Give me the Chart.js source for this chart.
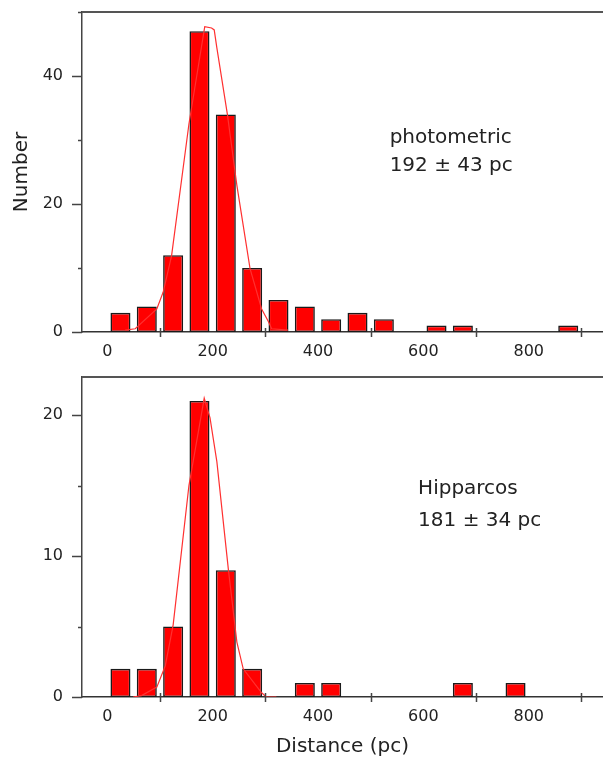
<!DOCTYPE html>
<html>
<head>
<meta charset="utf-8">
<script src="https://cdn.jsdelivr.net/npm/chart.js@4/dist/chart.umd.min.js"></script>
<style>
  body { margin: 0; background: #fff; }
  .panel { position: absolute; left: 0; width: 603px; }
  #topPanel { top: 0; height: 370px; }
  #bottomPanel { top: 370px; height: 391px; }
</style>
</head>
<body>
<div class="panel" id="topPanel"><canvas id="topChart" width="603" height="370"></canvas></div>
<div class="panel" id="bottomPanel"><canvas id="bottomChart" width="603" height="391"></canvas></div>
<script>
// distance bins (centre of each 50 pc bin) and counts
const topBins = [25, 75, 125, 175, 225, 275, 325, 375, 425, 475, 525, 625, 675, 875];
const topCounts = [3, 4, 12, 47, 34, 10, 5, 4, 2, 3, 2, 1, 1, 1];
const bottomBins = [25, 75, 125, 175, 225, 275, 375, 425, 675, 775];
const bottomCounts = [2, 2, 5, 21, 9, 2, 1, 1, 1, 1];

// gaussian fit curves
const topFitX = [34, 53, 94, 106, 122, 155, 185, 198, 203, 208, 228, 246, 271, 293, 306, 312, 343];
const topFitY = [0.3, 0.5, 3.6, 6.2, 11.9, 32.5, 47.7, 47.5, 47.2, 44.4, 34, 22.9, 9.9, 3.6, 1.6, 0.5, 0.3];
const bottomFitX = [49, 65, 94, 110, 125, 155, 184, 195, 208, 230, 246, 258, 293, 302, 321];
const bottomFitY = [0, 0.1, 0.7, 2.2, 5.1, 15, 21.2, 19.8, 16.7, 9, 3.9, 2, 0.3, 0, 0];

// tick labels
const xTickLabels = [0, 200, 400, 600, 800];
const topYLabels = [0, 20, 40];
const bottomYLabels = [0, 10, 20];

const TEXT = '#222';
const AXIS = '#444';
const FONT = 'DejaVu Sans';

function toPoints(xs, ys) {
    return xs.map((x, i) => ({ x: x, y: ys[i] }));
}

// tick marks: long ones at labelled y ticks, short ones between;
// x ticks only between labels, crossing the axis
const tickMarks = {
    id: 'tickMarks',
    afterDraw(chart, args, opts) {
        const ctx = chart.ctx;
        const x = chart.scales.x, y = chart.scales.y;
        const area = chart.chartArea;
        ctx.save();
        ctx.strokeStyle = AXIS;
        ctx.lineWidth = 1.5;
        ctx.beginPath();
        y.ticks.forEach(t => {
            const py = Math.round(y.getPixelForValue(t.value)) + 0.5;
            const len = opts.yLabels.includes(t.value) ? 10 : 4;
            ctx.moveTo(area.left - len, py);
            ctx.lineTo(area.left, py);
        });
        x.ticks.forEach(t => {
            if (xTickLabels.includes(t.value)) return;
            const px = Math.round(x.getPixelForValue(t.value)) + 0.5;
            ctx.moveTo(px, area.bottom - 4);
            ctx.lineTo(px, area.bottom + 5);
        });
        ctx.stroke();
        // frame line on top
        ctx.lineWidth = 2;
        ctx.strokeStyle = '#555';
        ctx.beginPath();
        ctx.moveTo(area.left, area.top);
        ctx.lineTo(area.right, area.top);
        ctx.stroke();
        ctx.restore();
    }
};

// the two text notes inside each panel
const notes = {
    id: 'notes',
    afterDraw(chart, args, opts) {
        const ctx = chart.ctx;
        const x = chart.scales.x, y = chart.scales.y;
        ctx.save();
        ctx.fillStyle = TEXT;
        ctx.font = '20px "' + FONT + '"';
        ctx.textAlign = 'left';
        ctx.textBaseline = 'middle';
        opts.lines.forEach(l => {
            ctx.fillText(l.text, x.getPixelForValue(l.x), y.getPixelForValue(l.y));
        });
        ctx.restore();
    }
};

function makeChart(id, bins, counts, fitX, fitY, yMax, yLabels, opts) {
    return new Chart(document.getElementById(id), {
        type: 'bar',
        data: {
            datasets: [
                {
                    type: 'line',
                    data: toPoints(fitX, fitY),
                    borderColor: '#ff3030',
                    borderWidth: 1.2,
                    pointRadius: 0,
                    tension: 0,
                    order: 0
                },
                {
                    type: 'bar',
                    data: toPoints(bins, counts),
                    backgroundColor: '#ff0000',
                    borderColor: '#1a1a1a',
                    borderWidth: 1.6,
                    borderSkipped: false,
                    barPercentage: 0.76,
                    categoryPercentage: 1,
                    order: 1
                }
            ]
        },
        options: {
            responsive: false,
            animation: false,
            events: [],
            layout: { padding: { top: opts.padTop, right: 0, left: 0, bottom: 0 } },
            plugins: {
                legend: { display: false },
                tooltip: { enabled: false },
                tickMarks: { yLabels: yLabels },
                notes: { lines: opts.notes }
            },
            scales: {
                x: {
                    type: 'linear',
                    min: -48,
                    max: 941,
                    offset: false,
                    grid: { display: false, drawTicks: false, offset: false },
                    border: { color: '#333', width: 1.5 },
                    ticks: {
                        stepSize: 100,
                        includeBounds: false,
                        autoSkip: false,
                        maxRotation: 0,
                        padding: 10,
                        color: TEXT,
                        font: { family: FONT, size: 16 },
                        callback: v => xTickLabels.includes(v) ? String(v) : ''
                    },
                    title: {
                        display: !!opts.xTitle,
                        text: opts.xTitle || '',
                        color: TEXT,
                        font: { family: FONT, size: 20 },
                        padding: { top: 0, bottom: 2 }
                    },
                    afterFit: s => {
                        s.height = opts.xHeight;
                        s.paddingLeft = 0;
                        s.paddingRight = 0;
                    }
                },
                y: {
                    min: 0,
                    max: yMax,
                    grid: { display: false, drawTicks: false },
                    border: { color: AXIS, width: 1.5 },
                    ticks: {
                        stepSize: yLabels[1] / 2,
                        includeBounds: false,
                        padding: 19,
                        color: TEXT,
                        font: { family: FONT, size: 16 },
                        callback: v => yLabels.includes(v) ? String(v) : ''
                    },
                    title: {
                        display: !!opts.yTitle,
                        text: opts.yTitle || '',
                        color: TEXT,
                        font: { family: FONT, size: 20 },
                        padding: { top: 10, bottom: 0 }
                    },
                    afterFit: s => {
                        s.width = 82;
                        s.paddingTop = 0;
                        s.paddingBottom = 0;
                    }
                }
            }
        },
        plugins: [tickMarks, notes]
    });
}

makeChart('topChart', topBins, topCounts, topFitX, topFitY, 50, topYLabels, {
    padTop: 12,
    xHeight: 38,
    yTitle: 'Number',
    notes: [
        { text: 'photometric', x: 536, y: 30.4 },
        { text: '192 ± 43 pc', x: 536, y: 25.9 }
    ]
});

makeChart('bottomChart', bottomBins, bottomCounts, bottomFitX, bottomFitY, 22.7, bottomYLabels, {
    padTop: 7,
    xHeight: 64,
    xTitle: 'Distance (pc)',
    notes: [
        { text: 'Hipparcos', x: 590, y: 14.75 },
        { text: '181 ± 34 pc', x: 590, y: 12.5 }
    ]
});
</script>
</body>
</html>
